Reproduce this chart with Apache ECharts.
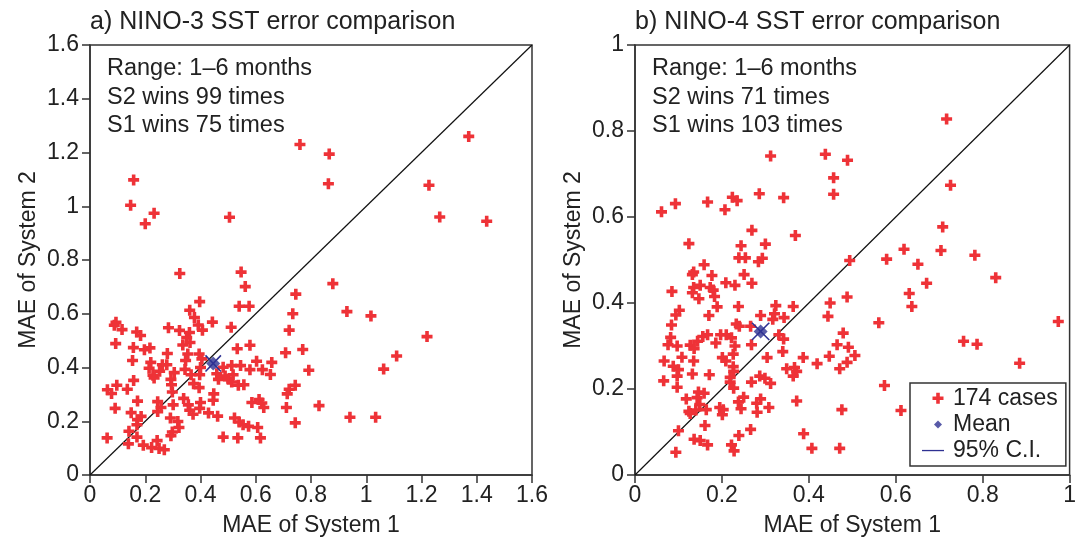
<!DOCTYPE html>
<html><head><meta charset="utf-8">
<script src="https://cdn.jsdelivr.net/npm/echarts@6/dist/echarts.min.js"></script>
<style>html,body{margin:0;padding:0;background:#fff}#c{width:1079px;height:542px}</style>
</head><body><div id="c"></div>
<script>
// Panel a) NINO-3: MAE of System 1 (x) and System 2 (y)
const s1A = [0.76,0.158,0.147,0.232,0.2,0.505,1.371,0.866,0.863,1.227,1.266,1.436,0.879,0.93,1.017,1.22,1.11,1.063,0.77,0.792,0.829,0.941,1.034,0.325,0.547,0.562,0.745,0.397,0.361,0.54,0.576,0.734,0.378,0.094,0.088,0.116,0.284,0.324,0.392,0.407,0.443,0.511,0.721,0.169,0.183,0.36,0.35,0.362,0.093,0.336,0.157,0.197,0.217,0.28,0.533,0.579,0.708,0.354,0.395,0.154,0.22,0.346,0.405,0.603,0.658,0.214,0.262,0.278,0.344,0.4,0.482,0.513,0.545,0.579,0.624,0.228,0.252,0.305,0.366,0.397,0.459,0.489,0.518,0.653,0.232,0.293,0.465,0.501,0.513,0.158,0.295,0.375,0.537,0.557,0.743,0.097,0.135,0.063,0.078,0.395,0.298,0.721,0.714,0.448,0.446,0.339,0.172,0.245,0.356,0.4,0.586,0.612,0.622,0.301,0.257,0.091,0.629,0.711,0.361,0.397,0.149,0.245,0.373,0.429,0.462,0.185,0.291,0.318,0.523,0.54,0.554,0.574,0.607,0.17,0.172,0.322,0.141,0.298,0.293,0.743,0.062,0.17,0.482,0.535,0.617,0.139,0.193,0.223,0.243,0.25,0.269];
const s2A = [1.23,1.098,1.004,0.974,0.935,0.959,1.26,1.194,1.084,1.078,0.96,0.944,0.712,0.608,0.592,0.515,0.443,0.394,0.467,0.39,0.258,0.215,0.215,0.75,0.755,0.701,0.673,0.645,0.613,0.628,0.628,0.6,0.586,0.568,0.557,0.541,0.548,0.538,0.558,0.539,0.569,0.55,0.539,0.532,0.519,0.53,0.511,0.493,0.489,0.484,0.474,0.466,0.473,0.452,0.47,0.483,0.455,0.45,0.45,0.426,0.419,0.426,0.432,0.423,0.419,0.397,0.41,0.41,0.393,0.4,0.401,0.407,0.407,0.392,0.392,0.371,0.386,0.381,0.373,0.373,0.377,0.368,0.373,0.374,0.361,0.356,0.356,0.356,0.346,0.352,0.336,0.34,0.334,0.336,0.334,0.334,0.319,0.317,0.303,0.325,0.309,0.319,0.302,0.302,0.278,0.285,0.275,0.273,0.261,0.27,0.27,0.281,0.268,0.261,0.251,0.248,0.251,0.251,0.241,0.248,0.232,0.236,0.226,0.231,0.219,0.218,0.212,0.199,0.212,0.197,0.187,0.181,0.177,0.187,0.206,0.177,0.163,0.16,0.146,0.194,0.138,0.141,0.141,0.138,0.138,0.116,0.111,0.102,0.128,0.099,0.094];
const meanA = [0.446, 0.415];
const ciA1 = [[0.418,0.385],[0.474,0.445]];
const ciA2 = [[0.418,0.445],[0.474,0.385]];

// Panel b) NINO-4
const s1B = [0.312,0.438,0.489,0.457,0.457,0.061,0.093,0.167,0.207,0.224,0.235,0.286,0.342,0.269,0.369,0.124,0.244,0.3,0.717,0.726,0.708,0.619,0.704,0.782,0.579,0.494,0.651,0.83,0.671,0.631,0.637,0.561,0.974,0.756,0.787,0.885,0.574,0.612,0.506,0.491,0.488,0.488,0.239,0.254,0.284,0.293,0.159,0.135,0.132,0.177,0.251,0.209,0.23,0.269,0.085,0.135,0.15,0.173,0.18,0.132,0.183,0.147,0.449,0.189,0.238,0.324,0.364,0.102,0.094,0.17,0.289,0.321,0.343,0.444,0.317,0.084,0.233,0.24,0.266,0.479,0.082,0.076,0.097,0.127,0.144,0.156,0.167,0.186,0.197,0.21,0.222,0.23,0.268,0.331,0.342,0.465,0.136,0.226,0.34,0.108,0.067,0.135,0.201,0.209,0.304,0.387,0.447,0.419,0.471,0.088,0.1,0.226,0.227,0.349,0.367,0.372,0.364,0.132,0.171,0.097,0.066,0.219,0.287,0.299,0.219,0.268,0.312,0.097,0.227,0.146,0.159,0.118,0.143,0.25,0.289,0.372,0.238,0.28,0.149,0.308,0.164,0.244,0.124,0.14,0.195,0.203,0.201,0.281,0.476,0.127,0.161,0.1,0.266,0.239,0.388,0.136,0.15,0.167,0.222,0.228,0.094,0.407,0.471];
const s2B = [0.742,0.746,0.732,0.691,0.653,0.612,0.631,0.635,0.617,0.646,0.638,0.654,0.645,0.569,0.557,0.538,0.533,0.537,0.828,0.674,0.577,0.525,0.522,0.511,0.502,0.499,0.49,0.459,0.446,0.422,0.392,0.354,0.357,0.311,0.304,0.26,0.208,0.15,0.278,0.297,0.262,0.414,0.505,0.505,0.496,0.504,0.489,0.472,0.466,0.464,0.466,0.447,0.441,0.446,0.427,0.436,0.441,0.436,0.43,0.424,0.415,0.41,0.4,0.391,0.392,0.394,0.392,0.383,0.372,0.371,0.371,0.375,0.366,0.369,0.362,0.349,0.351,0.346,0.346,0.33,0.32,0.303,0.3,0.302,0.311,0.322,0.326,0.307,0.326,0.326,0.319,0.3,0.303,0.326,0.316,0.303,0.294,0.281,0.287,0.274,0.265,0.265,0.273,0.265,0.273,0.273,0.276,0.259,0.247,0.253,0.245,0.252,0.241,0.247,0.25,0.241,0.23,0.235,0.233,0.23,0.219,0.227,0.23,0.225,0.216,0.216,0.213,0.204,0.202,0.193,0.19,0.177,0.18,0.181,0.177,0.172,0.17,0.167,0.164,0.157,0.152,0.154,0.148,0.151,0.157,0.152,0.14,0.146,0.152,0.143,0.115,0.103,0.106,0.092,0.096,0.083,0.08,0.07,0.07,0.056,0.053,0.062,0.062];
const meanB = [0.289, 0.334];
const ciB1 = [[0.269,0.314],[0.309,0.354]];
const ciB2 = [[0.269,0.354],[0.309,0.314]];

const diagA = [[0,0],[1.6,1.6]];
const diagB = [[0,0],[1,1]];
const titles = ['a) NINO-3 SST error comparison', 'b) NINO-4 SST error comparison'];
const notesA = ['Range: 1\u20136 months', 'S2 wins 99 times', 'S1 wins 75 times'];
const notesB = ['Range: 1\u20136 months', 'S2 wins 71 times', 'S1 wins 103 times'];
const legendNames = ['174 cases', 'Mean', '95% C.I.'];

const RED = '#ee3237', BLUE = '#2e3192', INK = '#222', LINE = '#333';
const FONT = "'Liberation Sans', Arial, Helvetica, sans-serif";
const PLUS = 'path://M3.7,0h3.6v3.7h3.7v3.6h-3.7v3.7h-3.6v-3.7h-3.7v-3.6h3.7z';
const zip = (a, b) => a.map((v, i) => [v, b[i]]);

function xAxis(idx, max) {
  return {
    gridIndex: idx, type: 'value', min: 0, max: max, interval: 0.2,
    name: 'MAE of System 1', nameLocation: 'middle', nameGap: 39,
    nameTextStyle: { fontSize: 23, color: INK, fontFamily: FONT },
    axisLine: { show: true, lineStyle: { color: LINE, width: 1.5 } },
    axisTick: { show: true, inside: false, length: 8, lineStyle: { color: LINE, width: 1.5 } },
    axisLabel: { fontSize: 23, color: INK, fontFamily: FONT, margin: 9,
      formatter: v => (Math.round(v * 10) / 10).toString() },
    splitLine: { show: false }
  };
}
function yAxis(idx, max) {
  return {
    gridIndex: idx, type: 'value', min: 0, max: max, interval: 0.2,
    name: 'MAE of System 2', nameLocation: 'middle', nameGap: 50, nameRotate: 90,
    nameTextStyle: { fontSize: 23, color: INK, fontFamily: FONT },
    axisLine: { show: true, lineStyle: { color: LINE, width: 1.5 } },
    axisTick: { show: true, inside: false, length: 8, lineStyle: { color: LINE, width: 1.5 } },
    axisLabel: { fontSize: 23, color: INK, fontFamily: FONT, margin: 11,
      formatter: v => (Math.round(v * 10) / 10).toString() },
    splitLine: { show: false }
  };
}
function notes(lines, x) {
  return lines.map((t, i) => ({
    type: 'text', left: x, top: 57 + i * 28.5, z: 10,
    style: { text: t, font: '23.5px ' + FONT, fill: INK }
  }));
}
function panelSeries(idx, xs, ys, mean, ci1, ci2, diag) {
  return [
    { type: 'line', xAxisIndex: idx, yAxisIndex: idx, data: diag, symbol: 'none',
      lineStyle: { color: '#111', width: 1.2 }, silent: true, z: 1, animation: false },
    { name: legendNames[0], type: 'scatter', xAxisIndex: idx, yAxisIndex: idx,
      data: zip(xs, ys), symbol: PLUS, symbolSize: 11,
      itemStyle: { color: RED, opacity: 1 }, z: 2, animation: false },
    { name: legendNames[2], type: 'line', xAxisIndex: idx, yAxisIndex: idx, data: ci1,
      symbol: 'none', lineStyle: { color: BLUE, width: 1.6 }, itemStyle: { color: BLUE }, z: 3, animation: false },
    { name: legendNames[2], type: 'line', xAxisIndex: idx, yAxisIndex: idx, data: ci2,
      symbol: 'none', lineStyle: { color: BLUE, width: 1.6 }, itemStyle: { color: BLUE }, z: 3, animation: false },
    { name: legendNames[1], type: 'scatter', xAxisIndex: idx, yAxisIndex: idx, data: [mean],
      symbol: 'diamond', symbolSize: 14, itemStyle: { color: BLUE }, z: 4, animation: false }
  ];
}

const chart = echarts.init(document.getElementById('c'), null, { renderer: 'canvas' });
chart.setOption({
  backgroundColor: '#fff',
  animation: false,
  textStyle: { fontFamily: FONT },
  title: [
    { text: titles[0], left: 85, top: 5, textStyle: { fontSize: 25, fontWeight: 'normal', color: INK, fontFamily: FONT } },
    { text: titles[1], left: 630, top: 5, textStyle: { fontSize: 25, fontWeight: 'normal', color: INK, fontFamily: FONT } }
  ],
  grid: [
    { left: 90, top: 45, width: 442, height: 436, show: true, borderColor: LINE, borderWidth: 1.5, backgroundColor: 'transparent' },
    { left: 635, top: 45, width: 442, height: 436, show: true, borderColor: LINE, borderWidth: 1.5, backgroundColor: 'transparent' }
  ],
  xAxis: [xAxis(0, 1.6), xAxis(1, 1)],
  yAxis: [yAxis(0, 1.6), yAxis(1, 1)],
  legend: {
    data: [
      { name: legendNames[0], icon: 'path://M0,0M24,20M14.2,4.2h3.6v3.7h3.7v3.6h-3.7v3.7h-3.6v-3.7h-3.7v-3.6h3.7z' },
      { name: legendNames[1], icon: 'path://M0,0M24,20M16,6L20,10L16,14L12,10z' },
      { name: legendNames[2], icon: 'path://M0,0M24,20M0,9.4h22v1.3h-22z' }
    ],
    orient: 'vertical', left: 910, top: 383,
    itemWidth: 24, itemHeight: 20, itemGap: 3,
    padding: [4, 8, 4, 12],
    backgroundColor: '#fff', borderColor: LINE, borderWidth: 1.5, borderRadius: 0,
    selectedMode: false,
    textStyle: { fontSize: 23, color: INK, fontFamily: FONT, padding: [0, 0, 0, 2] }
  },
  graphic: [].concat(notes(notesA, 107), notes(notesB, 652)),
  series: [].concat(
    panelSeries(0, s1A, s2A, meanA, ciA1, ciA2, diagA),
    panelSeries(1, s1B, s2B, meanB, ciB1, ciB2, diagB)
  )
});
</script></body></html>
